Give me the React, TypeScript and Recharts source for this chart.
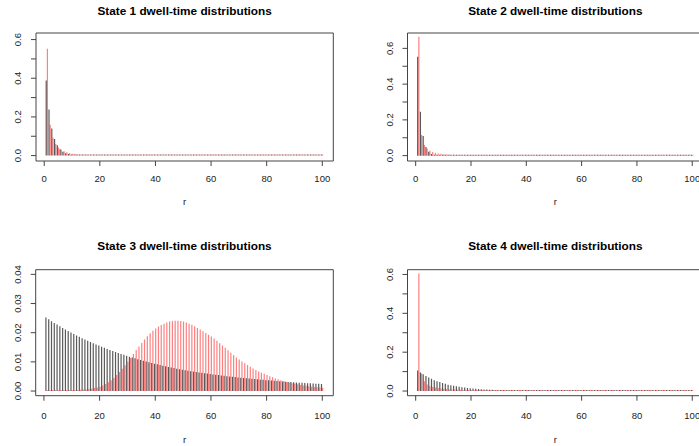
import { BarChart, Bar, XAxis, YAxis, ReferenceArea } from "recharts";

// dwell time r = 1..100
const rValues = [
  1, 2, 3, 4, 5, 6, 7, 8, 9, 10, 11, 12, 13, 14, 15, 16, 17, 18, 19, 20,
  21, 22, 23, 24, 25, 26, 27, 28, 29, 30, 31, 32, 33, 34, 35, 36, 37, 38, 39, 40,
  41, 42, 43, 44, 45, 46, 47, 48, 49, 50, 51, 52, 53, 54, 55, 56, 57, 58, 59, 60,
  61, 62, 63, 64, 65, 66, 67, 68, 69, 70, 71, 72, 73, 74, 75, 76, 77, 78, 79, 80,
  81, 82, 83, 84, 85, 86, 87, 88, 89, 90, 91, 92, 93, 94, 95, 96, 97, 98, 99, 100,
];

const xTicks = [0, 20, 40, 60, 80, 100];

const s1Black = [
  0.388, 0.238, 0.14, 0.086, 0.053, 0.033, 0.02, 0.0125, 0.0077, 0.0047,
  0.0029, 0.0018, 0.0011, 0.0007, 0.0004, 0.0003, 0.0002, 0.0001, 0.0001, 0,
  0, 0, 0, 0, 0, 0, 0, 0, 0, 0,
  0, 0, 0, 0, 0, 0, 0, 0, 0, 0,
  0, 0, 0, 0, 0, 0, 0, 0, 0, 0,
  0, 0, 0, 0, 0, 0, 0, 0, 0, 0,
  0, 0, 0, 0, 0, 0, 0, 0, 0, 0,
  0, 0, 0, 0, 0, 0, 0, 0, 0, 0,
  0, 0, 0, 0, 0, 0, 0, 0, 0, 0,
  0, 0, 0, 0, 0, 0, 0, 0, 0, 0,
];
const s1Red = [
  0.552, 0.16, 0.092, 0.06, 0.042, 0.03, 0.022, 0.017, 0.013, 0.01,
  0.0082, 0.0068, 0.0057, 0.0048, 0.0042, 0.0037, 0.0033, 0.003, 0.0027, 0.0025,
  0.0024, 0.0023, 0.0022, 0.0021, 0.002, 0.002, 0.0019, 0.0019, 0.0018, 0.0018,
  0.0018, 0.0017, 0.0017, 0.0017, 0.0016, 0.0016, 0.0016, 0.0015, 0.0015, 0.0015,
  0.0015, 0.0014, 0.0014, 0.0014, 0.0014, 0.0013, 0.0013, 0.0013, 0.0013, 0.0013,
  0.0013, 0.0012, 0.0012, 0.0012, 0.0012, 0.0012, 0.0012, 0.0012, 0.0011, 0.0011,
  0.0011, 0.0011, 0.0011, 0.0011, 0.0011, 0.0011, 0.0011, 0.0011, 0.0011, 0.0011,
  0.0011, 0.0011, 0.0011, 0.0011, 0.0011, 0.001, 0.001, 0.001, 0.001, 0.001,
  0.001, 0.001, 0.001, 0.001, 0.001, 0.001, 0.001, 0.001, 0.001, 0.001,
  0.001, 0.001, 0.001, 0.001, 0.001, 0.0009, 0.0009, 0.0009, 0.0009, 0.0009,
];

const s2Black = [
  0.553, 0.246, 0.11, 0.049, 0.022, 0.0098, 0.0044, 0.0019, 0.0009, 0.0004,
  0.0002, 0.0001, 0.0001, 0, 0, 0, 0, 0, 0, 0,
  0, 0, 0, 0, 0, 0, 0, 0, 0, 0,
  0, 0, 0, 0, 0, 0, 0, 0, 0, 0,
  0, 0, 0, 0, 0, 0, 0, 0, 0, 0,
  0, 0, 0, 0, 0, 0, 0, 0, 0, 0,
  0, 0, 0, 0, 0, 0, 0, 0, 0, 0,
  0, 0, 0, 0, 0, 0, 0, 0, 0, 0,
  0, 0, 0, 0, 0, 0, 0, 0, 0, 0,
  0, 0, 0, 0, 0, 0, 0, 0, 0, 0,
];
const s2Red = [
  0.665, 0.116, 0.06, 0.04, 0.028, 0.021, 0.016, 0.0125, 0.01, 0.0082,
  0.0068, 0.0058, 0.0049, 0.0042, 0.0037, 0.0032, 0.0029, 0.0026, 0.0023, 0.0021,
  0.0019, 0.0018, 0.0017, 0.0016, 0.0015, 0.0014, 0.0013, 0.0013, 0.0012, 0.0012,
  0.0011, 0.0011, 0.001, 0.001, 0.001, 0.0009, 0.0009, 0.0009, 0.0008, 0.0008,
  0.0008, 0.0008, 0.0008, 0.0007, 0.0007, 0.0007, 0.0007, 0.0007, 0.0007, 0.0006,
  0.0006, 0.0006, 0.0006, 0.0006, 0.0006, 0.0006, 0.0006, 0.0006, 0.0006, 0.0006,
  0.0006, 0.0006, 0.0006, 0.0006, 0.0005, 0.0005, 0.0005, 0.0005, 0.0005, 0.0005,
  0.0005, 0.0005, 0.0005, 0.0005, 0.0005, 0.0005, 0.0005, 0.0005, 0.0005, 0.0005,
  0.0005, 0.0005, 0.0004, 0.0004, 0.0004, 0.0004, 0.0004, 0.0004, 0.0004, 0.0004,
  0.0004, 0.0004, 0.0004, 0.0004, 0.0004, 0.0004, 0.0004, 0.0004, 0.0004, 0.0004,
];

const s3Black = [
  0.0252, 0.02457, 0.02396, 0.02336, 0.02277, 0.0222, 0.02165, 0.02111, 0.02058, 0.02006,
  0.01956, 0.01907, 0.0186, 0.01813, 0.01768, 0.01724, 0.01681, 0.01639, 0.01598, 0.01558,
  0.01519, 0.01481, 0.01444, 0.01408, 0.01372, 0.01338, 0.01305, 0.01272, 0.0124, 0.01209,
  0.01179, 0.0115, 0.01121, 0.01093, 0.01066, 0.01039, 0.01013, 0.00988, 0.00963, 0.00939,
  0.00915, 0.00893, 0.0087, 0.00849, 0.00827, 0.00807, 0.00787, 0.00767, 0.00748, 0.00729,
  0.00713, 0.00697, 0.00682, 0.00667, 0.00652, 0.00638, 0.00624, 0.0061, 0.00597, 0.00583,
  0.00571, 0.00558, 0.00546, 0.00534, 0.00522, 0.00511, 0.00499, 0.00488, 0.00478, 0.00467,
  0.00457, 0.00447, 0.00437, 0.00428, 0.00418, 0.00409, 0.004, 0.00391, 0.00383, 0.00374,
  0.00366, 0.00358, 0.0035, 0.00343, 0.00335, 0.00328, 0.00321, 0.00314, 0.00307, 0.003,
  0.00293, 0.00287, 0.00281, 0.00275, 0.00269, 0.00263, 0.00257, 0.00251, 0.00246, 0.0024,
];
const s3Red = [
  0, 0, 0, 0, 0, 0.0001, 0.0001, 0.0001, 0.0001, 0.0002,
  0.0002, 0.0003, 0.0004, 0.0005, 0.0006, 0.0007, 0.0008, 0.001, 0.0012, 0.0015,
  0.0019, 0.0024, 0.003, 0.0037, 0.0045, 0.0055, 0.0065, 0.0076, 0.0088, 0.01,
  0.0113, 0.0127, 0.0141, 0.0153, 0.0165, 0.0177, 0.0188, 0.0198, 0.0207, 0.0214,
  0.0221, 0.0226, 0.0231, 0.0235, 0.0238, 0.024, 0.0241, 0.0241, 0.024, 0.0238,
  0.0235, 0.0231, 0.0227, 0.0222, 0.0216, 0.0211, 0.0205, 0.0199, 0.0193, 0.0187,
  0.018, 0.0172, 0.0164, 0.0156, 0.0148, 0.014, 0.0131, 0.0123, 0.0115, 0.0108,
  0.0101, 0.0095, 0.0089, 0.0083, 0.0077, 0.0072, 0.0067, 0.0063, 0.0059, 0.0055,
  0.0051, 0.0047, 0.0043, 0.004, 0.0037, 0.0034, 0.0031, 0.0029, 0.0027, 0.0025,
  0.0023, 0.0021, 0.0019, 0.0018, 0.0016, 0.0015, 0.0014, 0.0013, 0.0012, 0.0011,
];

const s4Black = [
  0.106, 0.095, 0.086, 0.077, 0.07, 0.063, 0.056, 0.051, 0.046, 0.041,
  0.037, 0.033, 0.03, 0.027, 0.024, 0.022, 0.0196, 0.0177, 0.0159, 0.0143,
  0.0129, 0.0116, 0.0104, 0.0094, 0.0085, 0.0076, 0.0069, 0.0062, 0.0056, 0.005,
  0.0045, 0.0041, 0.0036, 0.0033, 0.003, 0.0027, 0.0024, 0.0022, 0.0019, 0.0017,
  0.0016, 0.0014, 0.0013, 0.0011, 0.001, 0.0009, 0.0008, 0.0007, 0.0007, 0.0006,
  0.0005, 0.0005, 0.0004, 0.0004, 0.0003, 0.0003, 0.0003, 0.0002, 0.0002, 0.0002,
  0.0002, 0.0002, 0.0001, 0.0001, 0.0001, 0.0001, 0.0001, 0.0001, 0.0001, 0.0001,
  0, 0, 0, 0, 0, 0, 0, 0, 0, 0,
  0, 0, 0, 0, 0, 0, 0, 0, 0, 0,
  0, 0, 0, 0, 0, 0, 0, 0, 0, 0,
];
const s4Red = [
  0.605, 0.09, 0.05, 0.034, 0.026, 0.021, 0.018, 0.0155, 0.0135, 0.012,
  0.0105, 0.0093, 0.0083, 0.0075, 0.0068, 0.0062, 0.0057, 0.0052, 0.0048, 0.0044,
  0.0041, 0.0038, 0.0035, 0.0033, 0.0031, 0.0029, 0.0027, 0.0026, 0.0024, 0.0023,
  0.0022, 0.0021, 0.002, 0.0019, 0.0018, 0.0017, 0.0016, 0.0016, 0.0015, 0.0014,
  0.0014, 0.0013, 0.0013, 0.0012, 0.0012, 0.0011, 0.0011, 0.0011, 0.001, 0.001,
  0.001, 0.0009, 0.0009, 0.0009, 0.0009, 0.0008, 0.0008, 0.0008, 0.0008, 0.0008,
  0.0007, 0.0007, 0.0007, 0.0007, 0.0007, 0.0007, 0.0007, 0.0007, 0.0007, 0.0007,
  0.0007, 0.0007, 0.0007, 0.0006, 0.0006, 0.0006, 0.0006, 0.0006, 0.0006, 0.0006,
  0.0006, 0.0006, 0.0006, 0.0006, 0.0006, 0.0006, 0.0006, 0.0006, 0.0006, 0.0006,
  0.0005, 0.0005, 0.0005, 0.0005, 0.0005, 0.0005, 0.0005, 0.0005, 0.0005, 0.0005,
];

const probTicks = [0, 0.1, 0.2, 0.3, 0.4, 0.5, 0.6];
const probLabels = [0, 0.2, 0.4, 0.6];
const smallTicks = [0, 0.01, 0.02, 0.03, 0.04];

const FONT = '"Liberation Sans", Arial, Helvetica, sans-serif';
const X_DOMAIN = [-2.96, 103.96];

const YTick = ({ x, y, payload, labels, digits }: any) => {
  const v = payload.value;
  if (!labels.some((l: number) => Math.abs(l - v) < 1e-9)) return <g />;
  return (
    <text
      x={x}
      y={y}
      dy="0.36em"
      transform={`rotate(-90 ${x} ${y})`}
      textAnchor="middle"
      fontSize={9.5}
      fill="#222"
      fontFamily={FONT}
    >
      {v.toFixed(digits)}
    </text>
  );
};

type PanelProps = {
  title: string;
  black: number[];
  red: number[];
  left: number;
  top: number;
  width: number;
  height: number;
  box: { l: number; r: number; t: number; b: number };
  yDomain: number[];
  yTicks: number[];
  yLabels: number[];
  digits: number;
  labelGap: number;
  titleY: number;
  rY: number;
};

const Panel = (p: PanelProps) => {
  const data = rValues.map((r, i) => ({ r, black: p.black[i], red: p.red[i] }));
  const cx = (p.box.l + p.box.r) / 2;
  return (
    <div
      style={{
        position: "absolute",
        left: p.left,
        top: p.top,
        width: p.width,
        height: p.height,
      }}
    >
      <div
        style={{
          position: "absolute",
          left: cx - 160,
          width: 320,
          top: p.titleY - 7,
          height: 14,
          lineHeight: "14px",
          textAlign: "center",
          fontFamily: FONT,
          fontWeight: "bold",
          fontSize: 11.8,
          color: "#000",
        }}
      >
        {p.title}
      </div>
      <BarChart
        width={p.width}
        height={p.height}
        data={data}
        barGap={0}
        margin={{
          top: p.box.t,
          right: p.width - p.box.r,
          bottom: p.height - p.box.b - 30,
          left: 0,
        }}
      >
        <XAxis
          dataKey="r"
          type="number"
          domain={X_DOMAIN}
          ticks={xTicks}
          allowDataOverflow
          interval={0}
          height={30}
          axisLine={false}
          tickSize={5}
          tickMargin={p.labelGap}
          tickLine={{ stroke: "#444" }}
          tick={{ fontSize: 9.5, fill: "#222", fontFamily: FONT }}
        />
        <YAxis
          type="number"
          domain={p.yDomain}
          ticks={p.yTicks}
          allowDataOverflow
          interval={0}
          width={p.box.l}
          axisLine={false}
          tickSize={5}
          tickMargin={13}
          tickLine={{ stroke: "#444" }}
          tick={<YTick labels={p.yLabels} digits={p.digits} />}
        />
        <ReferenceArea
          x1={X_DOMAIN[0]}
          x2={X_DOMAIN[1]}
          y1={p.yDomain[0]}
          y2={p.yDomain[1]}
          fill="none"
          stroke="#444"
          strokeWidth={1}
          ifOverflow="visible"
        />
        <Bar
          dataKey="black"
          fill="#000"
          fillOpacity={0.65}
          barSize={1.2}
          minPointSize={1}
          isAnimationActive={false}
        />
        <Bar
          dataKey="red"
          fill="#ff0000"
          fillOpacity={0.5}
          barSize={1.2}
          minPointSize={1}
          isAnimationActive={false}
        />
      </BarChart>
      <div
        style={{
          position: "absolute",
          left: cx - 20,
          width: 40,
          top: p.rY - 7,
          height: 14,
          lineHeight: "14px",
          textAlign: "center",
          fontFamily: FONT,
          fontSize: 9.5,
          color: "#222",
        }}
      >
        r
      </div>
    </div>
  );
};

export default function App() {
  return (
    <div
      style={{
        position: "absolute",
        left: 0,
        top: 0,
        width: 699,
        height: 446,
        overflow: "hidden",
        background: "#fff",
      }}
    >
      <Panel
        title="State 1 dwell-time distributions"
        black={s1Black}
        red={s1Red}
        left={0}
        top={0}
        width={350}
        height={223}
        box={{ l: 36, r: 333.3, t: 33, b: 161 }}
        yDomain={[-0.028, 0.634]}
        yTicks={probTicks}
        yLabels={probLabels}
        digits={1}
        labelGap={9.6}
        titleY={10.5}
        rY={201.7}
      />
      <Panel
        title="State 2 dwell-time distributions"
        black={s2Black}
        red={s2Red}
        left={350}
        top={0}
        width={360}
        height={223}
        box={{ l: 57.5, r: 353.2, t: 33, b: 161 }}
        yDomain={[-0.03, 0.686]}
        yTicks={probTicks}
        yLabels={probLabels}
        digits={1}
        labelGap={9.6}
        titleY={10.5}
        rY={201.7}
      />
      <Panel
        title="State 3 dwell-time distributions"
        black={s3Black}
        red={s3Red}
        left={0}
        top={223}
        width={350}
        height={223}
        box={{ l: 35.7, r: 333.3, t: 46.7, b: 172.7 }}
        yDomain={[-0.0016, 0.0416]}
        yTicks={smallTicks}
        yLabels={smallTicks}
        digits={2}
        labelGap={11.6}
        titleY={23.3}
        rY={216.7}
      />
      <Panel
        title="State 4 dwell-time distributions"
        black={s4Black}
        red={s4Red}
        left={350}
        top={223}
        width={360}
        height={223}
        box={{ l: 57.5, r: 353.2, t: 46.7, b: 172.7 }}
        yDomain={[-0.024, 0.6245]}
        yTicks={probTicks}
        yLabels={probLabels}
        digits={1}
        labelGap={11.6}
        titleY={23.3}
        rY={216.7}
      />
    </div>
  );
}
